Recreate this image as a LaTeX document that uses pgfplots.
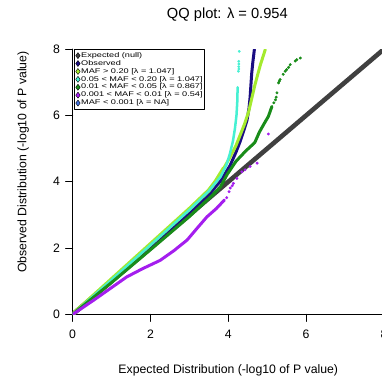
\documentclass[border=0pt]{standalone}
\usepackage{fontspec}
\setmainfont{Liberation Sans}
\newfontfamily\legfam{Liberation Sans}[FakeStretch=1.35]
\usepackage{pgfplots}
\pgfplotsset{compat=1.18}
\definecolor{cexp}{HTML}{404040}
\definecolor{cobs}{HTML}{1A0C82}
\definecolor{cmaf1}{HTML}{A4EA2E}
\definecolor{cmaf2}{HTML}{46F0D2}
\definecolor{cmaf3}{HTML}{198C19}
\definecolor{cmaf4}{HTML}{A41EEE}
\definecolor{cmaf5}{HTML}{4472DE}
\newcommand{\legfont}{\legfam\fontsize{6.8}{7}\selectfont}
\begin{document}
\begin{tikzpicture}
\begin{axis}[name=ax, at={(0,0)}, anchor=south west, scale only axis,
  width=311bp, height=265bp, xmin=0, xmax=8, ymin=0, ymax=8,
  axis x line=bottom, axis y line=left,
  axis line style={-, line width=1bp, black},
  xtick={0,2,4,6,8}, ytick={0,2,4,6,8},
  tick align=outside, major tick length=7bp,
  tick style={line width=1bp, black},
  ticklabel style={font=\fontsize{12.3}{14}\selectfont},
  /pgf/number format/assume math mode=true,
  xticklabel style={yshift=-5bp}, yticklabel style={xshift=-2bp},
  xlabel={Expected Distribution (-log10 of P value)},
  ylabel={Observed Distribution (-log10 of P value)},
  xlabel style={at={(axis description cs:0.5,-0.211)}, anchor=center, font=\fontsize{12.3}{14}\selectfont},
  ylabel style={at={(axis description cs:-0.159,0.574)}, anchor=center, rotate=0, font=\fontsize{12.3}{14}\selectfont},
  every axis title shift=0pt,
  title={QQ plot: λ = 0.954},
  title style={at={(axis description cs:0.497,1.128)}, anchor=center, font=\fontsize{14.7}{16}\selectfont},
  legend image code/.code={\draw[#1] plot coordinates {(0bp,0bp)};},
  legend cell align=left,
  legend style={at={(axis cs:0,8)}, anchor=north west, xshift=1.5bp, yshift=0bp,
    draw=black, line width=0.8bp, inner xsep=1.2bp, inner ysep=2.8bp,
    row sep=1.2bp, /tikz/column sep=0.6bp,
    nodes={inner sep=0.4bp, text height=4.6bp, text depth=1.3bp}},
  line join=round, line cap=round,
]
\addlegendimage{only marks, mark=diamond*, mark size=3bp, mark options={draw=black, line width=0.4bp, fill=cexp}}
\addlegendentry{\legfont Expected (null)}
\addlegendimage{only marks, mark=diamond*, mark size=3bp, mark options={draw=black, line width=0.4bp, fill=cobs}}
\addlegendentry{\legfont Observed}
\addlegendimage{only marks, mark=diamond*, mark size=3bp, mark options={draw=black, line width=0.4bp, fill=cmaf1}}
\addlegendentry{\legfont MAF > 0.20 [λ = 1.047]}
\addlegendimage{only marks, mark=diamond*, mark size=3bp, mark options={draw=black, line width=0.4bp, fill=cmaf2}}
\addlegendentry{\legfont 0.05 < MAF < 0.20 [λ = 1.047]}
\addlegendimage{only marks, mark=diamond*, mark size=3bp, mark options={draw=black, line width=0.4bp, fill=cmaf3}}
\addlegendentry{\legfont 0.01 < MAF < 0.05 [λ = 0.867]}
\addlegendimage{only marks, mark=diamond*, mark size=3bp, mark options={draw=black, line width=0.4bp, fill=cmaf4}}
\addlegendentry{\legfont 0.001 < MAF < 0.01 [λ = 0.54]}
\addlegendimage{only marks, mark=diamond*, mark size=3bp, mark options={draw=black, line width=0.4bp, fill=cmaf5}}
\addlegendentry{\legfont MAF < 0.001 [λ = NA]}
% Expected
\addplot[forget plot, cexp, line width=4.6bp] coordinates {(0,0) (8,8)};
% Observed
\addplot[forget plot, cobs, line width=3bp] coordinates {(0,0) (1,1.02) (2,2.05) (3,3.08) (3.5,3.62) (3.8,4.02) (4.05,4.5) (4.2,4.9) (4.3,5.2) (4.4,5.55) (4.48,5.85) (4.53,6.2) (4.56,6.55) (4.58,6.9) (4.6,7.25) (4.63,7.6) (4.67,7.99)};
% MAF > 0.20
\addplot[forget plot, cmaf1, line width=4bp] coordinates {(0,0) (1,1.06) (2,2.12) (3,3.18) (3.5,3.74) (3.68,4.02) (3.88,4.4)};
\addplot[forget plot, cmaf1, line width=3bp] coordinates {(3.88,4.4) (4.05,4.75) (4.2,5.1) (4.32,5.45) (4.42,5.75) (4.52,6.1) (4.6,6.5) (4.68,6.9) (4.76,7.25) (4.83,7.55) (4.9,7.8) (4.95,7.99)};
% 0.05 < MAF < 0.20
\addplot[forget plot, cmaf2, line width=2.5bp] coordinates {(0,0) (1,1.04) (2,2.09) (3,3.15) (3.5,3.72) (3.8,4.15) (3.95,4.5) (4.04,4.84) (4.12,5.23) (4.17,5.6) (4.21,6.0) (4.23,6.4) (4.24,6.85)};
\addplot[forget plot, only marks, mark=*, mark size=1.2bp, cmaf2] coordinates {(4.26,7.33) (4.27,7.40) (4.27,7.47) (4.27,7.55) (4.27,7.63) (4.28,7.93)};
% 0.01 < MAF < 0.05
\addplot[forget plot, cmaf3, line width=3bp] coordinates {(0,0) (1,0.96) (2,1.95) (3,2.95) (3.6,3.6) (3.8,3.85) (3.97,4.22) (4.2,4.62) (4.45,4.93) (4.68,5.18) (4.8,5.5) (4.92,5.75) (5.03,5.97) (5.12,6.27)};
\addplot[forget plot, only marks, mark=*, mark size=1.3bp, cmaf3] coordinates {(5.17,6.38) (5.21,6.47) (5.23,6.55) (5.25,6.68) (5.29,6.98) (5.31,7.03) (5.33,7.08) (5.41,7.24) (5.46,7.33) (5.5,7.38) (5.55,7.45) (5.59,7.53) (5.72,7.64) (5.76,7.68) (5.85,7.73)};
% 0.001 < MAF < 0.01
\addplot[forget plot, cmaf4, line width=3bp] coordinates {(0,0) (0.53,0.42) (1.39,1.13) (1.8,1.38) (2.25,1.63) (2.6,1.92) (2.94,2.24) (3.2,2.6) (3.45,2.94) (3.7,3.2) (3.9,3.45)};
\addplot[forget plot, only marks, mark=*, mark size=1.3bp, cmaf4] coordinates {(3.96,3.52) (4.02,3.7) (4.05,3.81) (4.1,3.88) (4.13,3.95) (4.22,4.10) (4.35,4.30) (4.43,4.36) (4.56,4.46) (4.74,4.56) (5.03,5.44)};
\end{axis}
\pgfresetboundingbox
\path[use as bounding box] ([xshift=-72.5bp,yshift=-67bp]ax.south west) rectangle ([xshift=-2bp,yshift=49bp]ax.north east);
\end{tikzpicture}
\end{document}
